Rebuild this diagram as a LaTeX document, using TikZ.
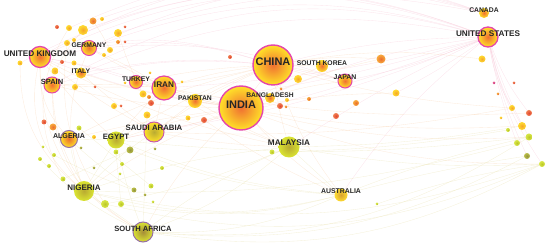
\documentclass[tikz,border=0pt]{standalone}
\usepackage{fontspec}
\setsansfont{Liberation Sans}
\usetikzlibrary{backgrounds}
\definecolor{hotin}{RGB}{240,112,50}
\definecolor{hotout}{RGB}{255,226,40}
\definecolor{grnin}{RGB}{185,170,50}
\definecolor{grnout}{RGB}{218,228,50}
\definecolor{ringpk}{RGB}{228,70,170}
\definecolor{ringmx}{RGB}{200,90,170}
\definecolor{ringpu}{RGB}{150,112,165}
\definecolor{inY}{RGB}{245,168,40}
\definecolor{outY}{RGB}{255,220,50}
\definecolor{inO}{RGB}{235,110,45}
\definecolor{outO}{RGB}{248,172,62}
\definecolor{inR}{RGB}{226,72,50}
\definecolor{outR}{RGB}{240,128,82}
\definecolor{inG}{RGB}{188,198,40}
\definecolor{outG}{RGB}{216,232,72}
\definecolor{inL}{RGB}{148,148,60}
\definecolor{outL}{RGB}{186,190,72}
\definecolor{inM}{RGB}{208,48,120}
\definecolor{outM}{RGB}{232,100,150}
\definecolor{lnO}{RGB}{244,190,140}
\definecolor{lnP}{RGB}{240,150,180}
\definecolor{lnY}{RGB}{226,216,150}

\begin{document}
\begin{tikzpicture}[x=1pt, y=-1pt,
  hub/.style={circle, inner sep=0pt, minimum size=#1, shading=radial, inner color=hotin, outer color=hotout},
  grn/.style={circle, inner sep=0pt, minimum size=#1, shading=radial, inner color=grnin, outer color=grnout},
  ring/.style={draw=ringpk, line width=#1},
  blip/.style={circle, inner sep=0pt, shading=radial, inner color=in#1, outer color=out#1},
  tag/.style={font=\sffamily\bfseries\fontsize{#1}{#1}\selectfont, text=black!85, inner sep=0pt},
  link/.style={draw=lnO, line width=.35pt, opacity=.3},
  linkp/.style={draw=lnP, line width=.35pt, opacity=.25},
  linky/.style={draw=lnY, line width=.35pt, opacity=.35}
]
\useasboundingbox (0,0) rectangle (550,248);

% countries
\node[hub=40pt, ring=1.4pt] (china) at (273,65) {};
\node[hub=44pt, ring=1.4pt] (india) at (241,108) {};
\node[hub=20pt, ring=1.3pt] (usa) at (488,37) {};
\node[hub=10pt] (canada) at (484,13) {};
\node[hub=21pt, ring=1.3pt] (uk) at (40,57) {};
\node[hub=15pt, ring=1pt] (germany) at (89,48) {};
\node[hub=11pt] (italy) at (81,73) {};
\node[hub=16pt, ring=1pt] (spain) at (52,85) {};
\node[hub=13pt, ring=1pt] (turkey) at (136,82) {};
\node[hub=24pt, ring=1.2pt] (iran) at (164,88) {};
\node[hub=14pt] (pakistan) at (195,101) {};
\node[hub=10pt] (bangladesh) at (270,98) {};
\node[hub=12pt] (skorea) at (322,66) {};
\node[hub=14pt, ring=1pt] (japan) at (345,81) {};
\node[hub=20pt, ring=1pt, draw=ringmx, inner color=grnin] (saudi) at (154,132) {};
\node[hub=17pt, ring=1pt, draw=ringpu, inner color=inO] (algeria) at (69,139) {};
\node[grn=17pt] (egypt) at (116,140) {};
\node[grn=21pt] (malaysia) at (289,147) {};
\node[grn=20pt] (nigeria) at (84,191) {};
\node[grn=13pt, inner color=inY!70!inL, outer color=outY] (australia) at (341,195) {};
\node[grn=20pt, ring=1pt, draw=ringpu, inner color=inL!80!inO] (safrica) at (143,232) {};

% small institutions
\foreach \x/\y/\r/\c [count=\i] in {
  93/21/3.5/O, 102/19/2/Y, 83/30/5/Y, 69/28/3/Y, 57/27/2/R, 118/33/4/Y, 125/27/1.5/R,
  67/43/3/Y, 74/40/2/Y, 118/42/2/O, 125/42/1.5/R, 110/50/3/Y, 104/55/2/Y, 62/62/2/R,
  74/63/2.5/Y, 20/63/2.5/Y, 55/71/3.5/Y, 75/87/3/Y, 95/87/1.5/R, 114/106/3/Y, 121/106/1.5/R,
  125/83/1.5/Y, 143/94/3.5/Y, 151/103/3/R, 150/73/1.5/Y, 149/97/2/O, 147/115/3.5/Y,
  182/82/1.5/Y, 188/118/2.5/Y, 204/120/3/R, 44/122/2.5/R, 53/127/3.5/O, 79/128/2.5/G,
  94/137/2/Y, 43/147/1.5/G, 54/155/2/G, 81/148/1.5/L, 40/159/2/G, 49/166/2/G, 94/168/1.5/L,
  63/179/2.5/G, 130/150/3.5/L, 116/152/2.5/G, 155/149/1.5/L, 122/164/2/G, 162/168/2/G,
  120/174/1.5/G, 151/186/2.5/G, 134/190/2.5/L, 145/195/1.5/L, 105/204/4/G, 121/204/3/G,
  153/202/1.5/G, 230/57/2/R, 298/79/4/Y, 281/89/1.5/O, 287/100/2/Y, 280/106/3/R,
  286/107/1.5/O, 309/99/2/O, 356/103/3/O, 336/116/3/R, 381/59/4.5/O, 396/93/3.5/Y,
  272/152/2.5/G, 377/204/1.5/G, 482/59/3.5/Y, 494/83/1.5/M, 514/83/1.5/R, 498/94/1.5/O,
  512/108/3/Y, 529/113/3/R, 501/118/1.5/Y, 522/126/4/Y, 508/130/2/G, 529/137/3.5/G,
  517/143/3/G, 527/156/3/L, 542/164/3/G}
  \node[blip=\c, minimum size=2*\r pt] (d\i) at (\x,\y) {};

% co-authorship links
\begin{scope}[on background layer]
\foreach \a/\b/\k in {
  uk/usa/22, uk/canada/24, germany/canada/20, d1/canada/18, d3/usa/20, spain/usa/22,
  d4/canada/22, germany/usa/18, italy/usa/16, d6/canada/14, d16/usa/24, uk/china/16,
  germany/china/12, spain/china/10, uk/japan/14, italy/japan/12, india/usa/8, china/usa/6,
  usa/iran/5, usa/saudi/6, usa/malaysia/-4, usa/japan/5, usa/d64/3, usa/d71/-10,
  usa/d72/-8, usa/d74/-8, usa/d76/-6, usa/d77/-5, usa/d78/-6, usa/d79/-10,
  usa/australia/-8, usa/egypt/4, usa/pakistan/4, uk/iran/4, uk/turkey/4, india/uk/6}
  \draw[linkp] (\a) to[bend left=\k] (\b);
\foreach \a/\b/\k in {
  uk/nigeria/-30, uk/safrica/-30, d16/nigeria/-25, spain/safrica/-28, d4/d41/-30,
  uk/algeria/-20, spain/nigeria/-15, germany/nigeria/-20, d8/d51/-20,
  india/china/0, india/iran/4, india/saudi/4, india/malaysia/-6, india/egypt/-4,
  india/algeria/-3, india/nigeria/-6, india/safrica/-8, india/australia/-6, india/japan/6,
  india/skorea/4, india/spain/6, india/germany/8, india/italy/5, india/turkey/3,
  india/pakistan/0, india/bangladesh/0, india/d74/-6, india/d76/-8, india/d79/-10,
  india/d64/4, india/d63/6, china/iran/-5, china/saudi/-5, china/malaysia/-4,
  china/japan/4, china/skorea/0, china/d67/8, china/d71/-6, china/australia/-8,
  china/spain/8, china/pakistan/-3, china/algeria/-6, china/egypt/-6, china/d63/6,
  china/turkey/-4, uk/saudi/-4, uk/egypt/-6, uk/malaysia/-8, iran/saudi/0,
  iran/egypt/-4, iran/malaysia/-6, saudi/egypt/0, saudi/malaysia/-4, pakistan/malaysia/-4,
  pakistan/saudi/0, iran/turkey/0, germany/iran/4, spain/iran/3, italy/saudi/-3,
  d72/iran/6, d71/saudi/6, d30/australia/-5, d3/d17/-6, d1/d12/4, d6/d23/-4}
  \draw[link] (\a) to[bend left=\k] (\b);
\foreach \a/\b/\k in {
  safrica/d79/-18, safrica/australia/-12, nigeria/australia/-14, safrica/d78/-16,
  d51/d79/-18, nigeria/d79/-15, safrica/malaysia/-10, d52/australia/-12, safrica/d76/-18,
  d74/malaysia/4, d76/egypt/6, d77/nigeria/8, d79/malaysia/6, d78/australia/-3,
  d75/d65/4, d76/australia/-4, d79/d66/-5, saudi/nigeria/-6, egypt/nigeria/0,
  egypt/algeria/0, algeria/nigeria/-5, nigeria/safrica/0, egypt/safrica/-4,
  malaysia/australia/0, malaysia/nigeria/-6, malaysia/safrica/-6, d42/australia/-8,
  d51/malaysia/-6, d41/d42/0, d33/d48/0, d36/d49/-4, d43/d52/0, algeria/d49/-4,
  d27/safrica/0, egypt/australia/-8, d38/safrica/-10}
  \draw[linky] (\a) to[bend left=\k] (\b);
\end{scope}

% labels
\node[tag=11pt] (chinaT) at ([yshift=3pt]china) {CHINA};
\node[tag=11pt] (indiaT) at ([yshift=3pt]india) {INDIA};
\node[tag=8.2pt] (usaT) at ([yshift=3pt]usa) {UNITED STATES};
\node[tag=6.8pt] (canadaT) at ([yshift=3pt]canada) {CANADA};
\node[tag=8.2pt] (ukT) at ([yshift=3pt]uk) {UNITED KINGDOM};
\node[tag=6.8pt] (germanyT) at ([yshift=3pt]germany) {GERMANY};
\node[tag=6.8pt] (italyT) at ([yshift=2pt]italy) {ITALY};
\node[tag=7.5pt] (spainT) at ([yshift=3pt]spain) {SPAIN};
\node[tag=6.8pt] (turkeyT) at ([yshift=3pt]turkey) {TURKEY};
\node[tag=8.2pt] (iranT) at ([yshift=3pt]iran) {IRAN};
\node[tag=6.8pt] (pakistanT) at ([yshift=3pt]pakistan) {PAKISTAN};
\node[tag=6.7pt] (bangladeshT) at ([yshift=3pt]bangladesh) {BANGLADESH};
\node[tag=6.8pt] (skoreaT) at ([yshift=3pt]skorea) {SOUTH KOREA};
\node[tag=6.9pt] (japanT) at ([yshift=4pt]japan) {JAPAN};
\node[tag=7.8pt] (saudiT) at ([yshift=4pt]saudi) {SAUDI ARABIA};
\node[tag=7.1pt] (algeriaT) at ([yshift=3pt]algeria) {ALGERIA};
\node[tag=7.8pt] (egyptT) at ([yshift=3pt]egypt) {EGYPT};
\node[tag=8.2pt] (malaysiaT) at ([yshift=4pt]malaysia) {MALAYSIA};
\node[tag=8pt] (nigeriaT) at ([yshift=3pt]nigeria) {NIGERIA};
\node[tag=6.9pt] (australiaT) at ([yshift=4pt]australia) {AUSTRALIA};
\node[tag=7.6pt] (safricaT) at ([yshift=3pt]safrica) {SOUTH AFRICA};
\end{tikzpicture}
\end{document}
